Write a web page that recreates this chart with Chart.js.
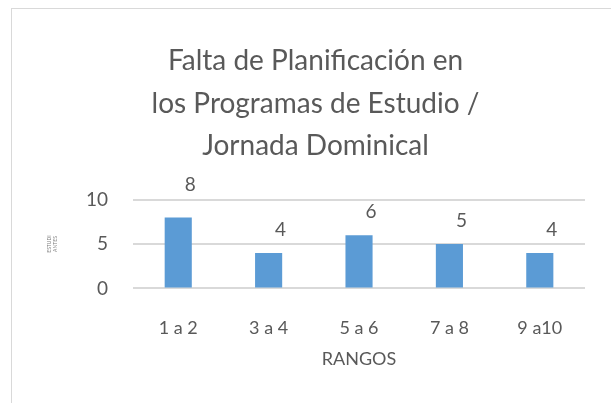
<!DOCTYPE html>
<html>
<head>
<meta charset="utf-8">
<script src="https://cdn.jsdelivr.net/npm/chart.js@4"></script>
<style>
  html, body { margin: 0; padding: 0; background: #fff; }
  #wrap { position: relative; width: 611px; height: 403px; overflow: hidden; }
  #frame { position: absolute; left: 11px; top: 8px; width: 700px; height: 500px; border: 1px solid #d9d9d9; }
  canvas { position: absolute; left: 0; top: 0; }
</style>
</head>
<body>
<div id="wrap">
  <div id="frame"></div>
  <canvas id="chart" width="611" height="403"></canvas>
</div>
<script>
// Falta de Planificación - Jornada Dominical
const categories = ["1 a 2", "3 a 4", "5 a 6", "7 a 8", "9 a10"]
const values = [8, 4, 6, 5, 4]
const yTicks = [0, 5, 10]
const xTitle = "RANGOS"

const textColor = "#595959"
const fontFamily = "Lato, 'Liberation Sans', sans-serif"

// value labels (Excel left them a bit off to the right of each bar) and the x title
const extraText = {
  id: "extraText",
  afterDatasetsDraw(chart) {
    const ctx = chart.ctx
    const meta = chart.getDatasetMeta(0)
    const area = chart.chartArea
    ctx.save()
    ctx.fillStyle = textColor
    ctx.font = "19px " + fontFamily
    ctx.textAlign = "center"
    ctx.textBaseline = "middle"
    meta.data.forEach((bar, i) => {
      const lift = i === 0 ? 33 : 23
      ctx.fillText(String(values[i]), bar.x + 12, bar.y - lift)
    })
    ctx.font = "18px " + fontFamily
    ctx.fillText(xTitle, (area.left + area.right) / 2, area.bottom + 71)
    ctx.restore()
  },
}

document.addEventListener("DOMContentLoaded", () => {
  const ctx = document.getElementById("chart").getContext("2d")
  new Chart(ctx, {
    type: "bar",
    data: {
      labels: categories,
      datasets: [
        {
          label: "Estudiantes",
          data: values,
          backgroundColor: "#5b9bd5",
          barPercentage: 0.3,
          categoryPercentage: 1,
        },
      ],
    },
    options: {
      responsive: false,
      animation: false,
      layout: { padding: { top: 28, right: 26, bottom: 43, left: 46 } },
      plugins: {
        legend: { display: false },
        tooltip: { enabled: false },
        title: {
          display: true,
          text: ["Falta de Planificación en", "los Programas de Estudio /", "Jornada Dominical"],
          color: textColor,
          font: { family: fontFamily, size: 28, weight: "normal", lineHeight: 1.52 },
          padding: { top: 12, bottom: 32 },
        },
      },
      scales: {
        x: {
          grid: { display: false },
          border: { display: false },
          ticks: { color: textColor, font: { family: fontFamily, size: 18 }, padding: 21 },
        },
        y: {
          min: 0,
          max: 10,
          afterBuildTicks: (axis) => {
            axis.ticks = yTicks.map((v) => ({ value: v }))
          },
          grid: { color: "#d9d9d9", lineWidth: 2, drawTicks: false },
          border: { display: false },
          ticks: { color: textColor, font: { family: fontFamily, size: 19 }, padding: 25 },
          title: {
            display: true,
            text: ["ESTUDI", "ANTES"],
            color: "#7f7f7f",
            font: { family: fontFamily, size: 5 },
            padding: { top: 0, bottom: 3 },
          },
        },
      },
    },
    plugins: [extraText],
  })
})
</script>
</body>
</html>
